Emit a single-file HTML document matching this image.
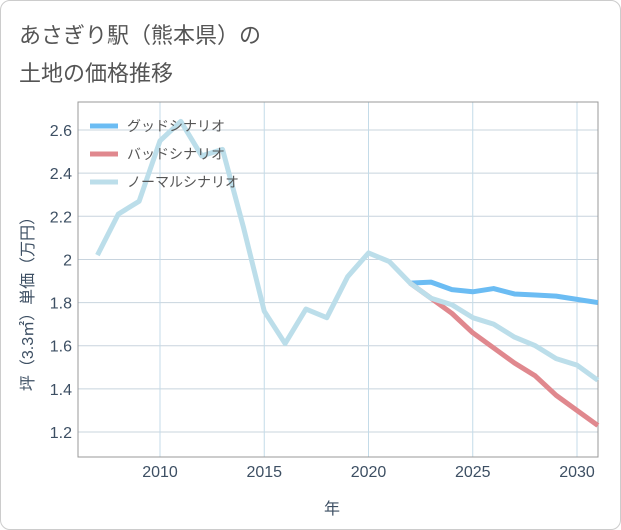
<!DOCTYPE html>
<html><head><meta charset="utf-8"><style>
body{margin:0;background:#fff;font-family:"Liberation Sans","Noto Sans CJK JP",sans-serif}
#wrap{position:relative;width:619px;height:528px;border:1px solid #ccc;border-radius:10px;overflow:hidden}
.t{position:absolute;left:18px;font-size:22px;color:#555}
</style></head><body>
<div id="wrap">
<div class="t" style="top:17px">あさぎり駅（熊本県）の</div>
<div class="t" style="top:55px">土地の価格推移</div>
<svg id="c" width="621" height="530" style="position:absolute;left:-1px;top:-1px"></svg>
</div>
<script>
const years=[2007,2008,2009,2010,2011,2012,2013,2014,2015,2016,2017,2018,2019,2020,2021,2022,2023,2024,2025,2026,2027,2028,2029,2030,2031];
const normal=[2.02,2.21,2.27,2.55,2.64,2.48,2.51,2.15,1.76,1.61,1.77,1.73,1.92,2.03,1.99,1.89,1.82,1.79,1.73,1.70,1.64,1.60,1.54,1.51,1.44];
const futureYears=[2022,2023,2024,2025,2026,2027,2028,2029,2030,2031];
const good=[1.89,1.895,1.86,1.85,1.865,1.84,1.835,1.83,1.815,1.80];
const bad=[1.89,1.82,1.75,1.66,1.59,1.52,1.46,1.37,1.30,1.23];
const xTicks=[2010,2015,2020,2025,2030];
const yTicks=[1.2,1.4,1.6,1.8,2,2.2,2.4,2.6];
const L=78,R=598,T=102,B=457;
const x=v=>160+(v-2010)*20.85;
const y=v=>432-(v-1.2)*215.7;
const svg=document.getElementById('c');
const NS='http://www.w3.org/2000/svg';
const TC='#3d4f63';
function el(t,a,txt){const e=document.createElementNS(NS,t);for(const k in a)e.setAttribute(k,a[k]);if(txt!=null)e.textContent=txt;svg.appendChild(e);return e;}
yTicks.forEach(v=>{
 const g=el('line',{x1:L,x2:R,y1:y(v),y2:y(v),stroke:'#c8d4de','stroke-width':1});
 
 
 const t=el('text',{x:72,y:y(v)+6,'text-anchor':'end','font-size':16,fill:TC},String(v));
 
 
});
xTicks.forEach(v=>{
 const g=el('line',{x1:x(v),x2:x(v),y1:T,y2:B,stroke:'#c4dbe8','stroke-width':1});
 
 
 const t=el('text',{x:x(v),y:477,'text-anchor':'middle','font-size':16,fill:TC},String(v));
 
 
});
const fr=el('rect',{x:L,y:T,width:R-L,height:B-T,fill:'none',stroke:'#999','stroke-width':1});


function line(xs,vs,col,name){
 const p=el('polyline',{points:xs.map((a,i)=>x(a)+','+y(vs[i])).join(' '),fill:'none',stroke:col,'stroke-width':5,'stroke-linejoin':'round'});
 
 
}
line(futureYears,good,'#6bbcf3','good-scenario-line');
line(futureYears,bad,'#e0888e','bad-scenario-line');
line(years,normal,'#bcdeea','normal-scenario-line');
const leg=[['グッドシナリオ','#6bbcf3'],['バッドシナリオ','#e0888e'],['ノーマルシナリオ','#bcdeea']];
leg.forEach((d,i)=>{
 const yy=126+i*28;
 const s=el('line',{x1:90,x2:118,y1:yy,y2:yy,stroke:d[1],'stroke-width':5});
 
 
 const t=el('text',{x:127,y:yy+5,'font-size':14,fill:'#555'},d[0]);
 
 
});
const xt=el('text',{x:332,y:514,'text-anchor':'middle','font-size':16,fill:TC},'年');


const yt=el('text',{x:0,y:0,'text-anchor':'middle','font-size':16,fill:TC,transform:'translate(33,300) rotate(-90)'},'坪（3.3㎡）単価（万円）');


</script>
</body></html>
